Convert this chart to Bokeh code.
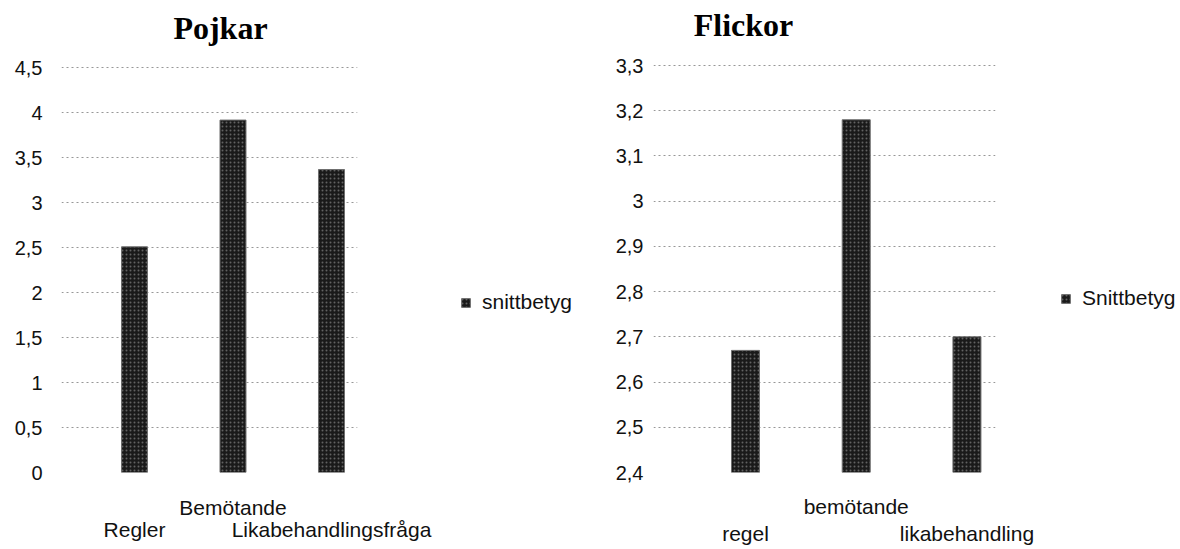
from bokeh.plotting import figure
from bokeh.layouts import row
from bokeh.models import FixedTicker, Range1d, Legend, LegendItem, LinearAxis, Label
from bokeh.embed import file_html
from bokeh.resources import INLINE

# ---- data ----
boys_title = "Pojkar"
boys_categories = ["Regler", "Bemötande", "Likabehandlingsfråga"]
boys_values = [2.51, 3.92, 3.37]
boys_ticks = [0, 0.5, 1, 1.5, 2, 2.5, 3, 3.5, 4, 4.5]
boys_tick_labels = ["0", "0,5", "1", "1,5", "2", "2,5", "3", "3,5", "4", "4,5"]
boys_legend = "snittbetyg"

girls_title = "Flickor"
girls_categories = ["regel", "bemötande", "likabehandling"]
girls_values = [2.67, 3.18, 2.70]
girls_ticks = [2.4, 2.5, 2.6, 2.7, 2.8, 2.9, 3.0, 3.1, 3.2, 3.3]
girls_tick_labels = ["2,4", "2,5", "2,6", "2,7", "2,8", "2,9", "3", "3,1", "3,2", "3,3"]
girls_legend = "Snittbetyg"

SANS = "Liberation Sans"
SERIF = "Liberation Serif"
TICK_FS = "20px"
CAT_FS = "21px"
TXT = "#111111"
H = 549

BAR_STYLE = dict(fill_color="#1a1a1a", line_color="#6f6f6f", line_width=1,
                 hatch_pattern=".", hatch_color="#9c9c9c", hatch_alpha=0.55,
                 hatch_scale=4, hatch_weight=1)


def cat_axis(idx, cats, standoff):
    ax = LinearAxis(ticker=FixedTicker(ticks=idx),
                    major_label_overrides={i: cats[i] for i in idx})
    ax.axis_line_color = None
    ax.major_tick_line_color = None
    ax.minor_tick_line_color = None
    ax.major_tick_out = 0
    ax.major_tick_in = 0
    ax.major_label_standoff = standoff
    ax.major_label_text_font = SANS
    ax.major_label_text_font_size = CAT_FS
    ax.major_label_text_color = TXT
    return ax


def make_chart(title, cats, vals, ticks, tick_labels, width, b_left, b_right,
               frame_bottom, frame_top_val_px, x_lo, x_hi, bar_w,
               title_px, cat_standoffs, ystandoff):
    # vertical scale: ticks[0] sits at frame_bottom px, ticks[-1] at frame_top_val_px
    ppu = (frame_bottom - frame_top_val_px) / (ticks[-1] - ticks[0])
    y_top = ticks[0] + frame_bottom / ppu          # frame reaches the top of the figure
    frame_w = width - b_left - b_right
    ppx = frame_w / (x_hi - x_lo)

    p = figure(width=width, height=H, output_backend="svg",
               toolbar_location=None, x_axis_location=None,
               x_range=Range1d(x_lo, x_hi), y_range=Range1d(ticks[0], y_top),
               min_border_left=b_left, min_border_right=b_right,
               min_border_top=0, min_border_bottom=H - frame_bottom)
    p.outline_line_color = None
    p.border_fill_color = "white"

    # title as a label inside the (tall) frame
    p.add_layout(Label(x=x_lo + (title_px[0] - b_left) / ppx,
                       y=ticks[0] + (frame_bottom - title_px[1]) / ppu,
                       text=title, text_align="center",
                       text_baseline="alphabetic", text_font=SERIF,
                       text_font_style="bold", text_font_size="32px",
                       text_color="#000000"))

    yax = p.yaxis[0]
    yax.ticker = FixedTicker(ticks=ticks)
    yax.major_label_overrides = {t: l for t, l in zip(ticks, tick_labels)}
    yax.axis_line_color = None
    yax.major_tick_line_color = None
    yax.minor_tick_line_color = None
    yax.major_tick_out = 0
    yax.major_label_text_font = SANS
    yax.major_label_text_font_size = TICK_FS
    yax.major_label_text_color = TXT
    yax.major_label_standoff = ystandoff

    # staggered category labels: middle one first, outer ones below it
    p.add_layout(cat_axis([1], cats, cat_standoffs[0]), "below")
    p.add_layout(cat_axis([0, 2], cats, cat_standoffs[1]), "below")

    p.xgrid.grid_line_color = None
    p.ygrid.ticker = FixedTicker(ticks=ticks)
    p.ygrid.grid_line_color = "#7d7d7d"
    p.ygrid.grid_line_dash = "2 3"
    p.ygrid.grid_line_width = 1
    p.ygrid.grid_line_alpha = 0.8

    xs = list(range(len(cats)))
    p.vbar(x=xs, top=vals, bottom=ticks[0], width=bar_w, **BAR_STYLE)
    return p


def make_legend(label, width, loc):
    q = figure(width=width, height=H, output_backend="svg",
               toolbar_location=None, x_axis_location=None,
               y_axis_location=None, min_border=0,
               x_range=Range1d(0, 1), y_range=Range1d(0, 1))
    q.outline_line_color = None
    q.grid.grid_line_color = None
    # a sample bar kept outside the visible range, only used for the legend swatch
    r = q.vbar(x=[5], top=[0.5], width=0.1, **BAR_STYLE)
    leg = Legend(items=[LegendItem(label=label, renderers=[r])],
                 location=loc, border_line_color=None,
                 background_fill_alpha=0, padding=0, margin=0, spacing=0,
                 glyph_width=11, glyph_height=11, label_standoff=11,
                 label_text_font=SANS, label_text_font_size=CAT_FS,
                 label_text_color=TXT)
    q.add_layout(leg, "center")
    return q


# left chart: page x 0..450, frame x 61..357, 0 at y=476, 4.5 at y=68
p1 = make_chart(boys_title, boys_categories, boys_values, boys_ticks,
                boys_tick_labels, width=450, b_left=61, b_right=93,
                frame_bottom=476, frame_top_val_px=68,
                x_lo=-0.741, x_hi=2.264, bar_w=0.264,
                title_px=(220, 28), cat_standoffs=(23, -4), ystandoff=19)
l1 = make_legend(boys_legend, 150, (10, 158))

# right chart: page x 600..1040, frame x 653..995, 2.4 at y=472, 3.3 at y=65
p2 = make_chart(girls_title, girls_categories, girls_values, girls_ticks,
                girls_tick_labels, width=440, b_left=53, b_right=45,
                frame_bottom=472, frame_top_val_px=65,
                x_lo=-0.831, x_hi=2.258, bar_w=0.253,
                title_px=(143, 24), cat_standoffs=(22, 1), ystandoff=10)
l2 = make_legend(girls_legend, 140, (20, 162))

layout = row(p1, l1, p2, l2)
open("out.html", "w").write(file_html(layout, INLINE))
